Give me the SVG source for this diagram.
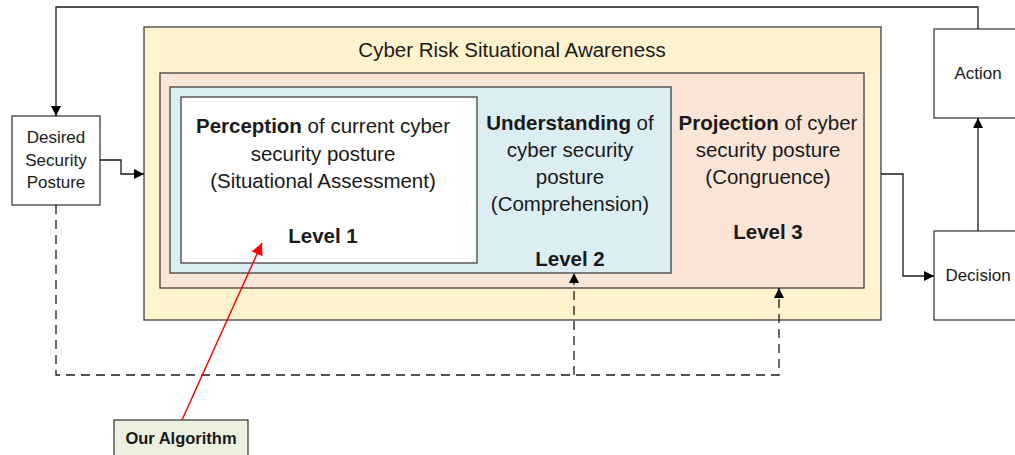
<svg xmlns="http://www.w3.org/2000/svg" width="1015" height="455" viewBox="0 0 1015 455">
  <style>
    text { font-family: "Liberation Sans", Arial, sans-serif; fill: #1a1a1a; }
    .box { stroke: #404040; stroke-width: 1.3; }
    .t { font-size: 20.5px; text-anchor: middle; }
    .s { font-size: 17px; text-anchor: middle; }
    .b { font-weight: bold; }
    .line { fill: none; stroke: #1a1a1a; stroke-width: 1.3; }
    .dash { fill: none; stroke: #1a1a1a; stroke-width: 1.3; stroke-dasharray: 9 6; }
    .red { fill: none; stroke: #ff0000; stroke-width: 1.5; }
  </style>
  <defs>
    <marker id="arr" markerWidth="10" markerHeight="10" refX="10" refY="5" orient="auto" markerUnits="userSpaceOnUse">
      <path d="M0,0 L10,5 L0,10 Z" fill="#000"/>
    </marker>
    <marker id="arrRed" markerWidth="12" markerHeight="12" refX="12" refY="6" orient="auto" markerUnits="userSpaceOnUse">
      <path d="M0,0 L12,6 L0,12 Z" fill="#ff0000"/>
    </marker>
  </defs>

  <rect width="1015" height="455" fill="#ffffff"/>

  <g id="awareness">
    <rect class="box" x="144" y="27" width="737" height="293" fill="#FFF2CC"/>
    <text class="t" x="512" y="57">Cyber Risk Situational Awareness</text>
  </g>

  <g id="projection">
    <rect class="box" x="160" y="73" width="704" height="215" fill="#FBE5D6"/>
    <text class="t" x="768" y="130"><tspan class="b">Projection</tspan> of cyber</text>
    <text class="t" x="768" y="157">security posture</text>
    <text class="t" x="768" y="184">(Congruence)</text>
    <text class="t b" x="768" y="239">Level 3</text>
  </g>

  <g id="understanding">
    <rect class="box" x="170" y="87" width="501" height="186" fill="#DAEEF3"/>
    <text class="t" x="570" y="130"><tspan class="b">Understanding</tspan> of</text>
    <text class="t" x="570" y="157">cyber security</text>
    <text class="t" x="570" y="184">posture</text>
    <text class="t" x="570" y="211">(Comprehension)</text>
    <text class="t b" x="570" y="266">Level 2</text>
  </g>

  <g id="perception">
    <rect class="box" x="181" y="97" width="296" height="166" fill="#ffffff"/>
    <text class="t" x="323" y="133"><tspan class="b">Perception</tspan> of current cyber</text>
    <text class="t" x="323" y="161">security posture</text>
    <text class="t" x="323" y="188">(Situational Assessment)</text>
    <text class="t b" x="323" y="243">Level 1</text>
  </g>

  <g id="desired">
    <rect class="box" x="12" y="116" width="88" height="89" fill="#ffffff"/>
    <text class="s" x="56" y="143">Desired</text>
    <text class="s" x="56" y="166">Security</text>
    <text class="s" x="56" y="188">Posture</text>
  </g>

  <g id="action">
    <rect class="box" x="934" y="29" width="90" height="89" fill="#ffffff"/>
    <text class="s" x="978" y="79">Action</text>
  </g>

  <g id="decision">
    <rect class="box" x="934" y="231" width="90" height="89" fill="#ffffff"/>
    <text class="s" x="978" y="281">Decision</text>
  </g>

  <g id="algorithm">
    <rect class="box" x="114" y="420" width="134" height="45" fill="#EBF1DE"/>
    <text class="s b" x="181" y="444" style="font-size:16.5px">Our Algorithm</text>
  </g>

  <g id="connectors">
    <!-- feedback from action to desired posture -->
    <path class="line" d="M978,29 V7 H56 V116" marker-end="url(#arr)"/>
    <!-- desired posture into awareness -->
    <path class="line" d="M100,160 H121 V174 H144" marker-end="url(#arr)"/>
    <!-- awareness to decision -->
    <path class="line" d="M881,174 H903 V276 H934" marker-end="url(#arr)"/>
    <!-- decision to action -->
    <path class="line" d="M978,231 V118" marker-end="url(#arr)"/>
    <!-- dashed reference from desired posture -->
    <path class="dash" d="M56,205 V375 H779 V288" marker-end="url(#arr)"/>
    <path class="dash" d="M574,375 V273" marker-end="url(#arr)"/>
    <!-- algorithm into level 1 -->
    <path class="red" d="M182,420 L262,243" marker-end="url(#arrRed)"/>
  </g>
</svg>
